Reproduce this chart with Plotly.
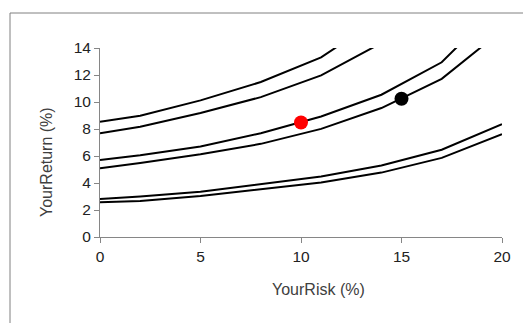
import plotly.graph_objects as go

risk = [0, 2, 5, 8, 11, 14, 17, 20]
curve_a = [8.53, 8.98, 10.12, 11.48, 13.30, 16.30]
curve_b = [7.69, 8.16, 9.18, 10.36, 11.97, 14.37]
curve_c = [5.71, 6.05, 6.70, 7.69, 8.93, 10.54, 12.94, 17.40]
curve_d = [5.10, 5.48, 6.13, 6.90, 8.01, 9.55, 11.72, 15.30]
curve_e = [2.82, 3.00, 3.36, 3.91, 4.48, 5.29, 6.46, 8.36]
curve_f = [2.57, 2.67, 3.04, 3.54, 4.03, 4.77, 5.86, 7.62]
curves = [curve_a, curve_b, curve_c, curve_d, curve_e, curve_f]

red_point = (10, 8.48)
black_point = (15, 10.24)

x_ticks = [0, 5, 10, 15, 20]
y_ticks = [0, 2, 4, 6, 8, 10, 12, 14]

font = "Arial, Liberation Sans, sans-serif"

fig = go.Figure()
for c in curves:
    fig.add_trace(go.Scatter(x=risk[:len(c)], y=c, mode="lines",
                             line=dict(color="black", width=2),
                             showlegend=False, hoverinfo="skip"))
fig.add_trace(go.Scatter(x=[red_point[0]], y=[red_point[1]], mode="markers",
                         marker=dict(color="#ff0000", size=14), showlegend=False))
fig.add_trace(go.Scatter(x=[black_point[0]], y=[black_point[1]], mode="markers",
                         marker=dict(color="black", size=14), showlegend=False))

axis_common = dict(showgrid=False, zeroline=False, showline=True,
                   linecolor="#868686", linewidth=1, ticks="outside",
                   ticklen=5, tickcolor="#868686",
                   tickfont=dict(family=font, size=15.5, color="#222222"))

fig.update_xaxes(range=[0, 20], tickvals=x_ticks, ticktext=[str(v) for v in x_ticks],
                 **axis_common)
fig.update_yaxes(range=[0, 14], tickvals=y_ticks, ticktext=[str(v) for v in y_ticks],
                 **axis_common)

# plot area in page pixels: x 100..502, y 48..237 (page has 8px body margin)
fig.add_annotation(text="YourRisk (%)", xref="paper", yref="paper",
                   x=(318 - 100) / 402, y=(237 - 289) / 189, showarrow=False,
                   font=dict(family=font, size=16, color="#404040"),
                   xanchor="center", yanchor="middle")
fig.add_annotation(text="YourReturn (%)", xref="paper", yref="paper",
                   x=(46 - 100) / 402, y=(237 - 162) / 189, showarrow=False,
                   textangle=-90,
                   font=dict(family=font, size=16, color="#404040"),
                   xanchor="center", yanchor="middle")

fig.add_shape(type="rect", xref="paper", yref="paper",
              x0=(10 - 100) / 402, x1=(545 - 100) / 402,
              y0=(237 - 335) / 189, y1=(237 - 13) / 189,
              line=dict(color="#808080", width=1), layer="below")

fig.update_layout(width=523, height=315,
                  margin=dict(l=92, r=29, t=40, b=86),
                  plot_bgcolor="white", paper_bgcolor="white")

fig.write_html("out.html")
